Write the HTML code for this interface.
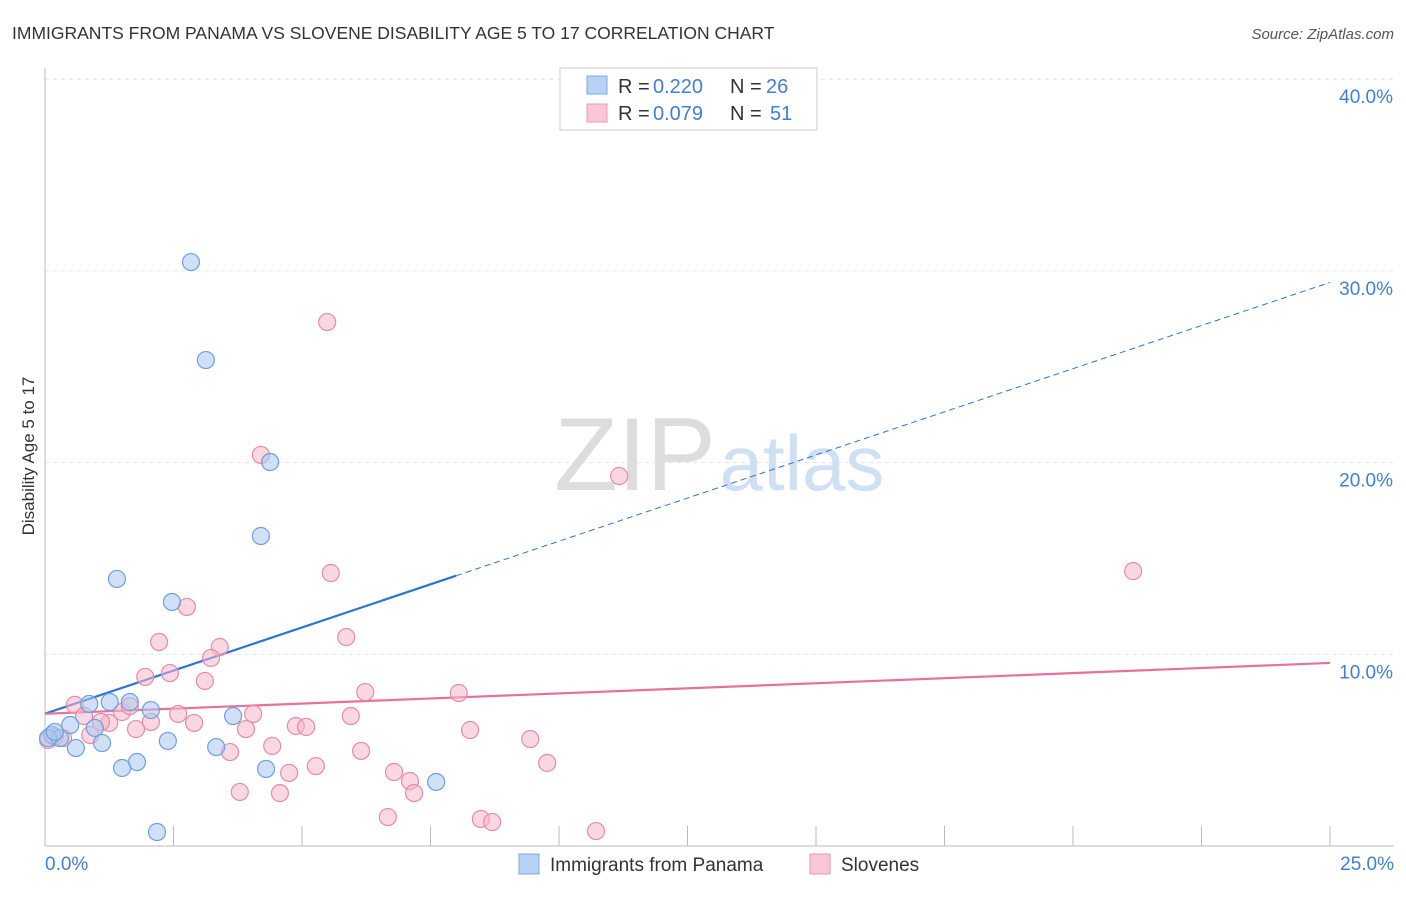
<!DOCTYPE html>
<html><head><meta charset="utf-8"><style>
body{margin:0;background:#fff;font-family:"Liberation Sans",sans-serif;}
svg text{font-family:"Liberation Sans",sans-serif;}
</style></head><body>
<svg id="chart" width="1406" height="892">
<text x="12" y="39" font-size="17.5" fill="#333">IMMIGRANTS FROM PANAMA VS SLOVENE DISABILITY AGE 5 TO 17 CORRELATION CHART</text>
<text x="1394" y="39" font-size="15" fill="#555" font-style="italic" text-anchor="end">Source: ZipAtlas.com</text>
<text x="34" y="456" font-size="17" fill="#333" text-anchor="middle" transform="rotate(-90 34 456)">Disability Age 5 to 17</text>
<g id="grid"></g>
<g><text x="635" y="490" font-size="104" fill="#ddd" font-family="Liberation Serif" text-anchor="middle">ZIP</text><text x="802" y="490" font-size="78" fill="#cfe0f3" text-anchor="middle">atlas</text></g>
<g id="lines"></g>
<g id="points"></g>
<g>
<rect x="560" y="68" width="257" height="62" fill="#fff" stroke="#ccc"/>
<rect x="587" y="76" width="20" height="18" fill="#b7d2f4" stroke="#7fa8df"/>
<rect x="587" y="104" width="20" height="18" fill="#f9c7d6" stroke="#eb9ab3"/>
<text x="618" y="93" font-size="20" fill="#333">R =</text>
<text x="653" y="93" font-size="20" fill="#3f7fd6">0.220</text>
<text x="730" y="93" font-size="20" fill="#333">N =</text>
<text x="766" y="93" font-size="20" fill="#3f7fd6">26</text>
<text x="618" y="120" font-size="20" fill="#333">R =</text>
<text x="653" y="120" font-size="20" fill="#3f7fd6">0.079</text>
<text x="730" y="120" font-size="20" fill="#333">N =</text>
<text x="770" y="120" font-size="20" fill="#3f7fd6">51</text>
</g>
<g>
<rect x="519" y="854" width="20" height="20" fill="#b7d2f4" stroke="#7fa8df"/>
<text x="550" y="871" font-size="19" fill="#333">Immigrants from Panama</text>
<rect x="810" y="854" width="20" height="20" fill="#f9c7d6" stroke="#eb9ab3"/>
<text x="841" y="871" font-size="19" fill="#333">Slovenes</text>
</g>
</svg>
<script>
const yTicks=[10,20,30,40];
const xTickLabels=["0.0%","25.0%"];
const blueX=[2.84,3.13,4.38,4.20,1.40,2.47,1.26,1.65,0.86,2.06,3.66,0.49,0.97,0.14,0.29,1.11,2.39,3.33,0.60,1.79,1.50,4.30,7.61,2.18,0.06,0.19];
const blueY=[30.46,25.35,20.03,16.17,13.93,12.73,7.51,7.51,7.41,7.09,6.78,6.31,6.16,5.79,5.63,5.37,5.48,5.16,5.11,4.38,4.07,4.02,3.34,0.73,5.63,5.95];
const pinkX=[5.49,4.20,11.17,21.17,5.56,2.76,5.86,2.22,3.40,3.23,1.95,2.43,3.11,6.23,8.05,0.58,0.76,1.50,1.65,2.59,2.06,4.05,5.95,2.90,1.25,4.88,5.08,1.77,8.27,1.09,3.91,9.44,0.19,4.42,3.60,6.15,9.77,5.27,4.75,6.79,7.10,3.79,4.57,7.18,6.67,8.48,8.70,10.72,0.35,0.06,0.88];
const pinkY=[27.33,20.40,19.30,14.34,14.24,12.47,10.90,10.64,10.38,9.81,8.82,9.02,8.61,8.03,7.98,7.36,6.78,6.99,7.30,6.89,6.47,6.89,6.78,6.42,6.42,6.26,6.21,6.10,6.05,6.47,6.10,5.58,5.69,5.22,4.90,4.96,4.33,4.17,3.81,3.86,3.39,2.82,2.76,2.76,1.51,1.41,1.25,0.78,5.63,5.53,5.79];
const blueLine=[6.9,29.4];const blueSolidEnd=8.0;
const pinkLine=[6.9,9.55];
const NS="http://www.w3.org/2000/svg";
const X=v=>45+v*51.4, Y=v=>846-v*19.17;
function mk(t,a,p){const e=document.createElementNS(NS,t);for(const k in a)e.setAttribute(k,a[k]);p.appendChild(e);return e;}
const grid=document.getElementById('grid');
yTicks.forEach(t=>{
 const l=mk('line',{x1:45,x2:1394,y1:Y(t),y2:Y(t),stroke:'#e4e4e4','stroke-dasharray':'4,4'},grid);
 
 
 const tx=mk('text',{x:1393,y:Y(t)+24,'font-size':19,fill:'#3f7fd6','text-anchor':'end'},grid);tx.textContent=t.toFixed(1)+'%';
 
 
});
mk('line',{x1:45,x2:45,y1:68,y2:846,stroke:'#bbb'},grid);
mk('line',{x1:45,x2:1394,y1:846,y2:846,stroke:'#bbb'},grid);
for(let i=0;i<=10;i++){mk('line',{x1:X(i*2.5),x2:X(i*2.5),y1:826,y2:846,stroke:'#bbb'},grid);}
const xl=mk('text',{x:45,y:870,'font-size':19,fill:'#3f7fd6'},grid);xl.textContent=xTickLabels[0];


const xr=mk('text',{x:1394,y:870,'font-size':19,fill:'#3f7fd6','text-anchor':'end'},grid);xr.textContent=xTickLabels[1];


const pts=document.getElementById('points');
function dots(xs,ys,fill,stroke,name){xs.forEach((x,i)=>{const c=mk('circle',{cx:X(x),cy:Y(ys[i]),r:8.5,fill:fill,'fill-opacity':0.55,stroke:stroke,'stroke-width':1.2},pts);
 
 });}
dots(pinkX,pinkY,'#f6b8cb','#e88aa8','slovene-point');
dots(blueX,blueY,'#a9c8f0','#6f9fdc','panama-point');
const ln=document.getElementById('lines');
const by=v=>blueLine[0]+(blueLine[1]-blueLine[0])*v/25;
const b1=mk('line',{x1:X(0),y1:Y(by(0)),x2:X(blueSolidEnd),y2:Y(by(blueSolidEnd)),stroke:'#2d72d9','stroke-width':2.2},ln);


const b2=mk('line',{x1:X(blueSolidEnd),y1:Y(by(blueSolidEnd)),x2:X(25),y2:Y(by(25)),stroke:'#2d72d9','stroke-width':1,'stroke-dasharray':'6,4'},ln);


const p1=mk('line',{x1:X(0),y1:Y(pinkLine[0]),x2:X(25),y2:Y(pinkLine[1]),stroke:'#e8709a','stroke-width':2.2},ln);


</script>
</body></html>
